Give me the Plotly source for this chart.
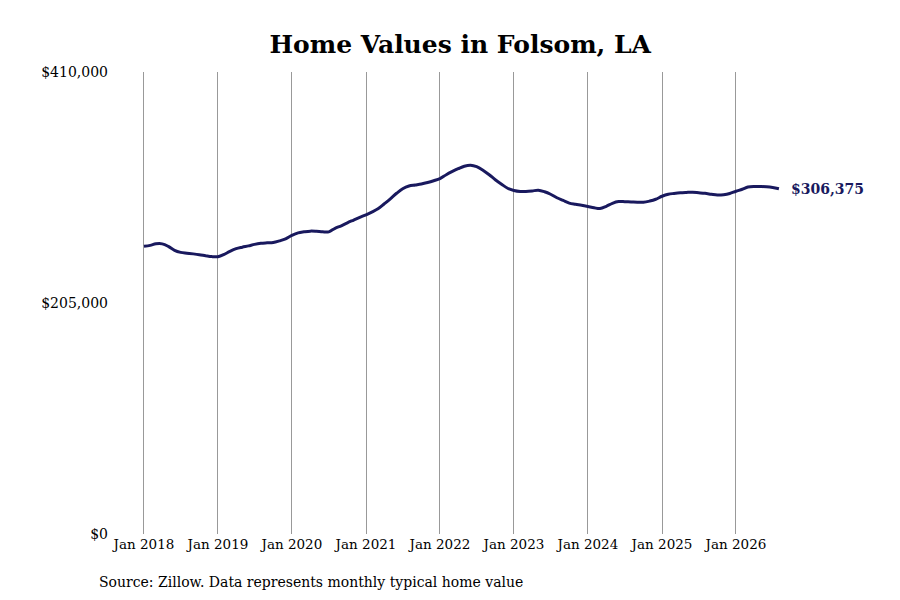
import pandas as pd
import plotly.graph_objects as go

# Monthly typical home value, Folsom LA
start_month = "2018-01-01"
home_values = [
    255300, 256150, 257480, 257480, 255260, 251700, 249920, 249210, 248590, 247880, 246990, 246190,
    246100, 248140, 250810, 253210, 254550, 255700, 257040, 257930, 258370, 258730, 260150, 261930,
    265040, 267270, 268150, 268780, 268600, 268150, 268150, 271270, 273490, 276160, 278650, 281050,
    283270, 285940, 288610, 293060, 297500, 302400, 306400, 308800, 309690, 310580, 311910, 313520,
    315470, 318850, 321520, 324190, 326410, 327300, 325970, 322850, 318850, 314400, 310400, 306840,
    304890, 304000, 304000, 304440, 305060, 303730, 301510, 298390, 295990, 293680, 292610, 291720,
    290650, 289500, 288790, 290830, 293500, 295010, 294920, 294660, 294480, 294390, 295460, 297060,
    299730, 301510, 302220, 302840, 303110, 303290, 302840, 302310, 301510, 300800, 301070, 302130,
    304170, 305950, 307910, 308440, 308350, 308170, 307550, 306375,
]
y_ticks = [0, 205000, 410000]
y_tick_labels = ["$0", "$205,000", "$410,000"]

months = pd.date_range(start_month, periods=len(home_values), freq="MS")

LINE_COLOR = "#19195e"
SERIF = "DejaVu Serif"

fig = go.Figure(go.Scatter(
    x=months,
    y=home_values,
    mode="lines",
    line=dict(color=LINE_COLOR, width=3, shape="spline"),
    hoverinfo="skip",
))

# label the latest value at the end of the line
fig.add_annotation(
    x=months[-1], y=home_values[-1],
    text=f"<b>${home_values[-1]:,}</b>",
    showarrow=False, xanchor="left", xshift=10,
    font=dict(family=SERIF, size=14, color=LINE_COLOR),
)

fig.add_annotation(
    xref="paper", yref="paper",
    x=-0.0263, y=-0.104,
    text="Source: Zillow. Data represents monthly typical home value",
    showarrow=False, xanchor="left", yanchor="middle",
    font=dict(family=SERIF, size=14, color="#000"),
)

fig.update_layout(
    width=900, height=600,
    margin=dict(l=107, r=108, t=64, b=74),
    paper_bgcolor="white", plot_bgcolor="white",
    showlegend=False,
    title=dict(
        text="<b>Home Values in Folsom, LA</b>",
        x=0.504, xref="paper", y=1 - 36 / 600, yref="container", yanchor="middle",
        font=dict(family=SERIF, size=25, color="#000"),
    ),
    xaxis=dict(
        range=["2017-08-11", "2026-11-13"],
        tick0="2018-01-01", dtick="M12", tickformat="%b %Y",
        showgrid=True, gridcolor="#999", gridwidth=1,
        showline=False, zeroline=False, ticks="",
        tickfont=dict(family=SERIF, size=13.5, color="#000"),
    ),
    yaxis=dict(
        range=[0, 410000],
        tickvals=y_ticks, ticktext=y_tick_labels,
        showgrid=False, zeroline=False, showline=False, ticks="",
        ticklabelstandoff=6,
        tickfont=dict(family=SERIF, size=14, color="#000"),
    ),
)

fig.write_html("out.html")
